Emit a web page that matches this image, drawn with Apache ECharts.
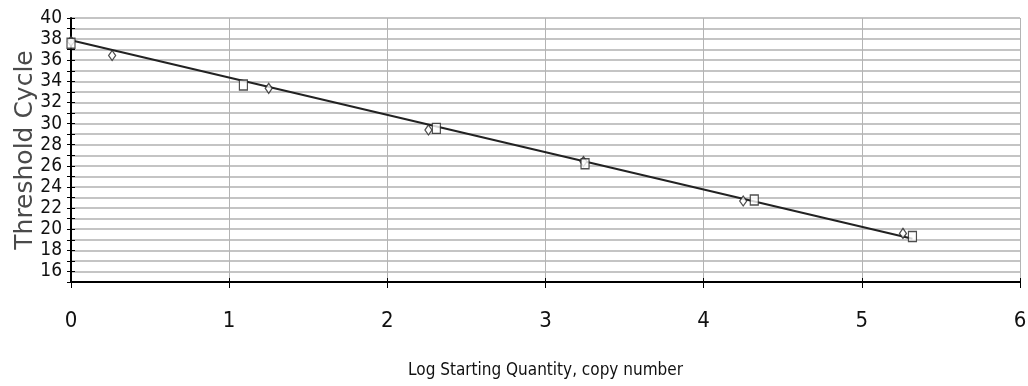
<!DOCTYPE html>
<html>
<head>
<meta charset="utf-8">
<script src="https://cdn.jsdelivr.net/npm/echarts@6/dist/echarts.min.js"></script>
<style>
  html, body { margin: 0; padding: 0; background: #fff; }
  #main { width: 1028px; height: 386px; }
</style>
</head>
<body>
<div id="main"></div>
<script>
// standard curve: log starting quantity vs threshold cycle
var squareQty = [0.0, 1.09, 2.31, 3.25, 4.32, 5.32];
var squareCt  = [37.6, 33.65, 29.55, 26.2, 22.77, 19.3];

var diamondQty = [0.0, 0.26, 1.25, 2.26, 3.24, 4.25, 5.26];
var diamondCt  = [37.8, 36.45, 33.34, 29.4, 26.4, 22.67, 19.6];

// fitted line end points
var fitQty = [0.0, 5.32];
var fitCt  = [37.9, 19.1];

var xTicks = [0, 1, 2, 3, 4, 5, 6];
var yMin = 15, yMax = 40;

function pairs(xs, ys) {
    var out = [];
    for (var i = 0; i < xs.length; i++) out.push([xs[i], ys[i]]);
    return out;
}

var myChart = echarts.init(document.getElementById('main'));

var narrow = '"DejaVu Sans Condensed", "Liberation Sans Narrow", sans-serif';

var option = {
    backgroundColor: '#ffffff',
    animation: false,
    grid: { left: 71, right: 8, top: 18, bottom: 104, containLabel: false, outerBoundsMode: 'none' },
    xAxis: [
        {
            type: 'value',
            min: xTicks[0],
            max: xTicks[xTicks.length - 1],
            interval: 1,
            position: 'bottom',
            name: 'Log Starting Quantity, copy number',
            nameLocation: 'middle',
            nameGap: 80,
            nameMoveOverlap: false,
            nameTextStyle: { fontFamily: narrow, fontSize: 17, color: '#111' },
            axisLine: { show: true, onZero: false, lineStyle: { color: '#000', width: 2 } },
            axisTick: { show: true, length: 6, lineStyle: { color: '#000', width: 1 } },
            axisLabel: { margin: 28, fontFamily: narrow, fontSize: 22, color: '#111' },
            splitLine: { show: true, lineStyle: { color: '#b4b4b4', width: 1 } }
        },
        {
            type: 'value',
            min: xTicks[0],
            max: xTicks[xTicks.length - 1],
            interval: 1,
            position: 'bottom',
            axisLine: { show: false, onZero: false },
            axisTick: { show: true, inside: true, length: 4, lineStyle: { color: '#000', width: 1 } },
            axisLabel: { show: false },
            splitLine: { show: false }
        }
    ],
    yAxis: [
        {
            type: 'value',
            min: yMin,
            max: yMax,
            interval: 1,
            position: 'left',
            name: 'Threshold Cycle',
            nameLocation: 'middle',
            nameGap: 33,
            nameMoveOverlap: false,
            nameTextStyle: { fontFamily: '"DejaVu Sans", Verdana, sans-serif', fontSize: 25, color: '#4a4a4a' },
            axisLine: { show: true, onZero: false, lineStyle: { color: '#000', width: 2 } },
            axisTick: { show: true, length: 4, lineStyle: { color: '#000', width: 1 } },
            axisLabel: {
                margin: 9,
                fontFamily: narrow,
                fontSize: 19,
                color: '#111',
                formatter: function (v) { return v % 2 === 0 ? String(v) : ''; }
            },
            splitLine: { show: true, lineStyle: { color: '#c4c4c4', width: 2 } }
        },
        {
            type: 'value',
            min: yMin,
            max: yMax,
            interval: 1,
            position: 'left',
            axisLine: { show: false, onZero: false },
            axisTick: { show: true, inside: true, length: 4, lineStyle: { color: '#000', width: 1 } },
            axisLabel: { show: false },
            splitLine: { show: false }
        }
    ],
    series: [
        {
            name: 'fit',
            type: 'line',
            data: pairs(fitQty, fitCt),
            symbol: 'none',
            lineStyle: { color: '#222', width: 2 },
            z: 3
        },
        {
            name: 'diamond',
            type: 'scatter',
            data: pairs(diamondQty, diamondCt),
            symbol: 'diamond',
            symbolSize: [7, 10],
            itemStyle: { color: '#ffffff', borderColor: '#222', borderWidth: 1.3 },
            z: 4
        },
        {
            name: 'square',
            type: 'scatter',
            data: pairs(squareQty, squareCt),
            symbol: 'rect',
            symbolSize: [8, 10],
            itemStyle: { color: '#ffffff', borderColor: '#222', borderWidth: 1.3 },
            z: 5
        }
    ]
};

myChart.setOption(option);
</script>
</body>
</html>
